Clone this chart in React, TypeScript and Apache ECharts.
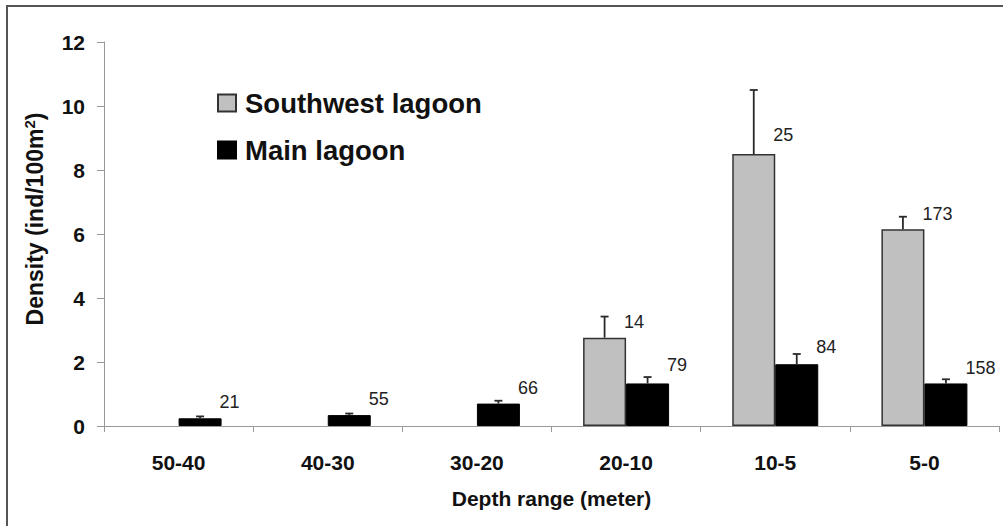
import React, { useEffect, useRef } from "react";
import * as echarts from "echarts";

const categories = ["50-40", "40-30", "30-20", "20-10", "10-5", "5-0"];
const southwest = [null, null, null, 2.76, 8.5, 6.15];
const southwestErr = [null, null, null, 3.42, 10.5, 6.54];
const southwestN = ["", "", "", "14", "25", "173"];
const southwestLabelY = [null, null, null, 3.25, 9.09, 6.63];
const mainLagoon = [0.24, 0.34, 0.7, 1.33, 1.93, 1.33];
const mainErr = [0.3, 0.39, 0.79, 1.53, 2.25, 1.46];
const mainN = ["21", "55", "66", "79", "84", "158"];
const mainLabelY = [0.74, 0.84, 1.18, 1.91, 2.47, 1.82];
const yTicks = [0, 2, 4, 6, 8, 10, 12];

const BAR_WIDTH = 43;
const FONT = "'Liberation Sans', Arial, sans-serif";

function errorSeries(values: (number | null)[], errs: (number | null)[], labels: string[], labelYs: (number | null)[], side: number) {
  const data: any[] = [];
  values.forEach((v, i) => {
    if (v == null) return;
    data.push([i, v, errs[i], labelYs[i], side, labels[i]]);
  });
  return {
    type: "custom",
    silent: true,
    z: 5,
    clip: false,
    encode: { x: 0, y: [1, 2] },
    data,
    renderItem: (params: any, api: any) => {
      const item = data[params.dataIndex];
      const cat = item[0];
      const v = item[1];
      const e = item[2];
      const ly = item[3];
      const p0 = api.coord([cat, v]);
      const p1 = api.coord([cat, e]);
      const pl = api.coord([cat, ly]);
      const half = BAR_WIDTH / 2;
      const x = p0[0] + side * half;
      const rightEdge = p0[0] + side * half + half;
      return {
        type: "group",
        children: [
          { type: "line", shape: { x1: x, y1: p0[1], x2: x, y2: p1[1] }, style: { stroke: "#2a2a2a", lineWidth: 1.8 } },
          { type: "line", shape: { x1: x - 4, y1: p1[1], x2: x + 4, y2: p1[1] }, style: { stroke: "#2a2a2a", lineWidth: 1.8 } },
          {
            type: "text",
            x: rightEdge - 2,
            y: pl[1],
            style: { text: item[5], fill: "#222", fontSize: 18, fontFamily: FONT, align: "left", verticalAlign: "middle" },
          },
        ],
      };
    },
  };
}

export default function App() {
  const ref = useRef<HTMLDivElement>(null);
  useEffect(() => {
    if (!ref.current) return;
    const chart = echarts.init(ref.current, undefined, { renderer: "svg" });
    chart.setOption({
      animation: false,
      backgroundColor: "#fff",
      textStyle: { fontFamily: FONT },
      graphic: [
        {
          type: "rect",
          silent: true,
          shape: { x: 7, y: 6, width: 1010, height: 540 },
          style: { fill: "none", stroke: "#555", lineWidth: 2 },
        },
      ],
      legend: {
        data: ["Southwest lagoon", "Main lagoon"],
        orient: "vertical",
        left: 212,
        top: 83,
        itemWidth: 18,
        itemHeight: 17,
        itemGap: 17,
        icon: "rect",
        textStyle: { fontSize: 27.5, fontWeight: "bold", color: "#111", fontFamily: FONT, lineHeight: 30, padding: [0, 0, 0, 4] },
      },
      grid: { left: 104, right: 4, top: 42, bottom: 100, containLabel: false },
      xAxis: {
        type: "category",
        data: categories,
        name: "Depth range (meter)",
        nameLocation: "middle",
        nameGap: 62,
        nameTextStyle: { fontSize: 21, fontWeight: "bold", color: "#111", fontFamily: FONT },
        axisLine: { lineStyle: { color: "#999", width: 1 } },
        axisTick: { show: true, length: 6, lineStyle: { color: "#999" } },
        axisLabel: { fontSize: 21, fontWeight: "bold", color: "#111", margin: 26, fontFamily: FONT },
      },
      yAxis: {
        type: "value",
        min: yTicks[0],
        max: yTicks[yTicks.length - 1],
        interval: 2,
        name: "Density (ind/100m{sup|2})",
        nameLocation: "middle",
        nameGap: 57,
        nameRotate: 90,
        nameTextStyle: {
          fontSize: 23,
          fontWeight: "bold",
          color: "#111",
          fontFamily: FONT,
          padding: [0, 0, 0, 30],
          rich: { sup: { fontSize: 15, fontWeight: "bold", verticalAlign: "top", color: "#111", fontFamily: FONT, padding: [0, 0, 10, 0] } },
        },
        splitLine: { show: false },
        axisLine: { show: true, lineStyle: { color: "#999", width: 1 } },
        axisTick: { show: true, length: 7, lineStyle: { color: "#999" } },
        axisLabel: { fontSize: 21, fontWeight: "bold", color: "#111", margin: 19, fontFamily: FONT },
      },
      series: [
        {
          name: "Southwest lagoon",
          type: "bar",
          data: southwest,
          barWidth: BAR_WIDTH,
          barGap: "0%",
          itemStyle: { color: "#c0c0c0", borderColor: "#333", borderWidth: 1.5 },
        },
        {
          name: "Main lagoon",
          type: "bar",
          data: mainLagoon,
          barWidth: BAR_WIDTH,
          barGap: "0%",
          itemStyle: { color: "#000", borderColor: "#000", borderWidth: 1 },
        },
        errorSeries(southwest, southwestErr, southwestN, southwestLabelY, -1),
        errorSeries(mainLagoon, mainErr, mainN, mainLabelY, 1),
      ],
    });
    return () => chart.dispose();
  }, []);
  return <div ref={ref} style={{ position: "absolute", left: 0, top: 0, width: 1003, height: 526 }} />;
}
